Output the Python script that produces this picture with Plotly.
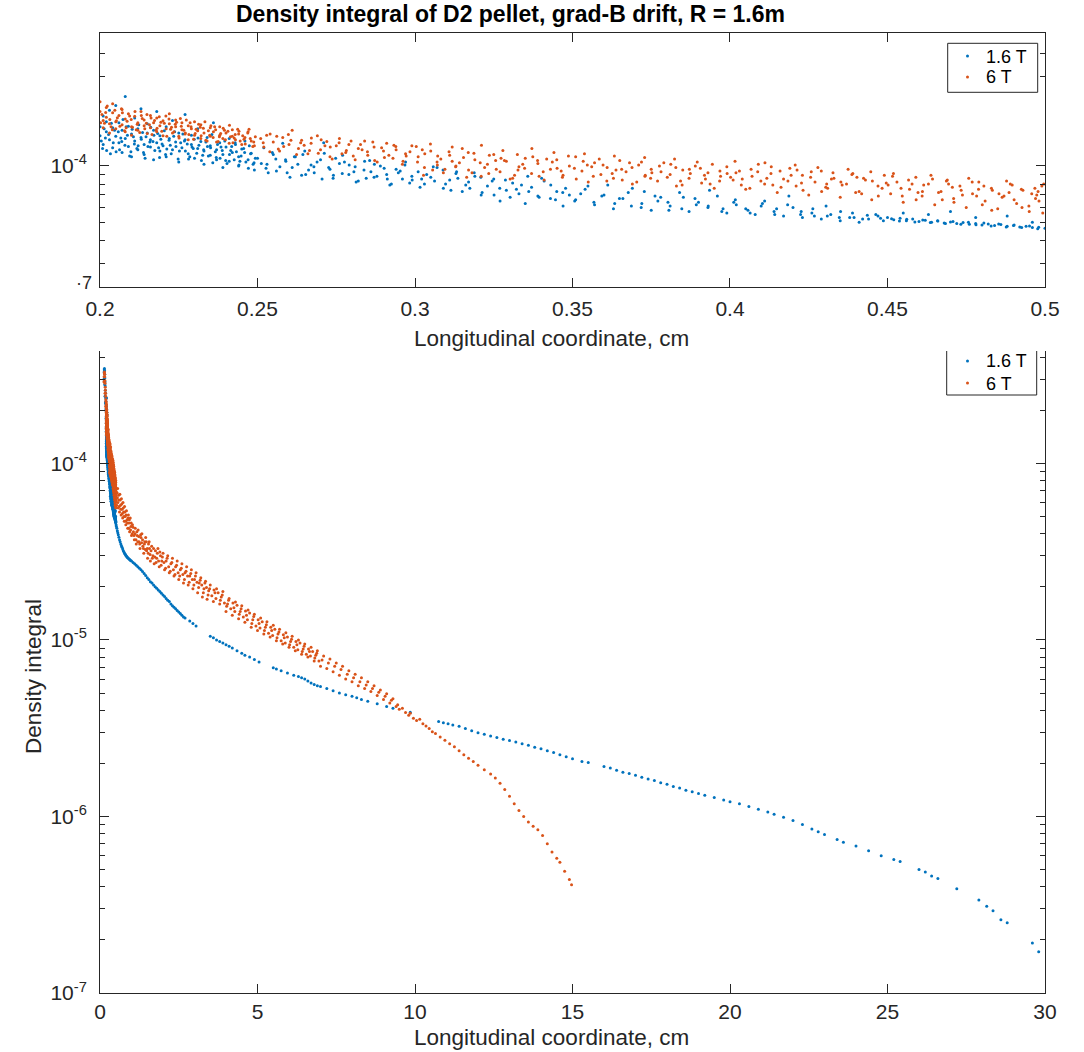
import plotly.graph_objects as go

# ---------------- data ----------------
series_names = ["1.6 T", "6 T"]

# 1.6 T : cloud in the zoomed range 0.2 - 0.5 cm
blue_cloud = [
    (0.200, 1.62e-4), (0.200, 1.45e-4), (0.201, 1.85e-4), (0.201, 1.30e-4), (0.202, 1.52e-4),
    (0.202, 1.72e-4), (0.203, 1.38e-4), (0.203, 1.98e-4), (0.204, 1.25e-4), (0.204, 1.60e-4),
    (0.205, 1.44e-4), (0.205, 2.10e-4), (0.206, 1.33e-4), (0.206, 1.70e-4), (0.207, 1.18e-4),
    (0.207, 1.55e-4), (0.208, 1.40e-4), (0.208, 2.35e-4), (0.209, 1.27e-4), (0.209, 1.63e-4),
    (0.210, 1.48e-4), (0.210, 1.12e-4), (0.211, 1.36e-4), (0.211, 1.80e-4), (0.212, 1.22e-4),
    (0.212, 1.58e-4), (0.213, 1.42e-4), (0.213, 2.02e-4), (0.214, 1.30e-4), (0.214, 1.15e-4),
    (0.215, 1.50e-4), (0.215, 1.68e-4), (0.216, 1.26e-4), (0.216, 1.38e-4), (0.217, 1.08e-4),
    (0.217, 1.55e-4), (0.218, 1.33e-4), (0.218, 1.95e-4), (0.219, 1.20e-4), (0.219, 1.45e-4),
    (0.220, 1.28e-4), (0.221, 1.62e-4), (0.221, 1.12e-4), (0.222, 1.40e-4), (0.223, 1.22e-4),
    (0.223, 1.75e-4), (0.224, 1.34e-4), (0.225, 1.05e-4), (0.225, 1.50e-4), (0.226, 1.25e-4),
    (0.227, 1.38e-4), (0.227, 1.88e-4), (0.228, 1.16e-4), (0.229, 1.30e-4), (0.229, 1.46e-4),
    (0.230, 1.10e-4), (0.231, 1.24e-4), (0.231, 1.58e-4), (0.232, 1.35e-4), (0.233, 1.02e-4),
    (0.233, 1.20e-4), (0.234, 1.42e-4), (0.235, 1.14e-4), (0.235, 1.28e-4), (0.236, 1.70e-4),
    (0.237, 1.08e-4), (0.237, 1.22e-4), (0.238, 1.33e-4), (0.239, 9.8e-5), (0.239, 1.15e-4),
    (0.240, 1.26e-4), (0.241, 1.40e-4), (0.241, 1.06e-4), (0.242, 1.18e-4), (0.243, 1.30e-4),
    (0.244, 1.00e-4), (0.244, 1.12e-4), (0.245, 1.23e-4), (0.246, 1.36e-4), (0.247, 1.08e-4),
    (0.248, 1.17e-4), (0.249, 9.5e-5),
    (0.2004, 1.36e-4), (0.2013, 1.58e-4), (0.2021, 1.21e-4), (0.2027, 1.47e-4), (0.2036, 1.69e-4),
    (0.2042, 1.33e-4), (0.2051, 1.19e-4), (0.2058, 1.52e-4), (0.2066, 1.41e-4), (0.2073, 1.77e-4),
    (0.2079, 1.29e-4), (0.2087, 1.46e-4), (0.2094, 1.13e-4), (0.2102, 1.57e-4), (0.2109, 1.31e-4),
    (0.2117, 1.24e-4), (0.2123, 1.66e-4), (0.2131, 1.39e-4), (0.2138, 1.18e-4), (0.2146, 1.43e-4),
    (0.2152, 1.27e-4), (0.2161, 1.61e-4), (0.2168, 1.35e-4), (0.2174, 1.21e-4), (0.2183, 1.49e-4),
    (0.2189, 1.11e-4), (0.2197, 1.31e-4), (0.2204, 1.54e-4), (0.2212, 1.23e-4), (0.2219, 1.37e-4),
    (0.2226, 1.16e-4), (0.2234, 1.44e-4), (0.2241, 1.27e-4), (0.2248, 1.09e-4), (0.2256, 1.33e-4),
    (0.2263, 1.48e-4), (0.2271, 1.20e-4), (0.2277, 1.31e-4), (0.2285, 1.12e-4), (0.2292, 1.26e-4),
    (0.2299, 1.39e-4), (0.2307, 1.17e-4), (0.2314, 1.29e-4), (0.2322, 1.07e-4), (0.2329, 1.22e-4),
    (0.2336, 1.34e-4), (0.2344, 1.13e-4), (0.2351, 1.25e-4), (0.2358, 1.04e-4), (0.2366, 1.19e-4),
    (0.2373, 1.30e-4), (0.2381, 1.10e-4), (0.2388, 1.21e-4), (0.2396, 1.36e-4), (0.2403, 1.03e-4),
    (0.2411, 1.15e-4), (0.2418, 1.27e-4), (0.2426, 1.08e-4), (0.2433, 1.19e-4), (0.2441, 1.01e-4),
    (0.2448, 1.13e-4), (0.2456, 1.24e-4), (0.2463, 1.05e-4), (0.2471, 9.7e-5), (0.2478, 1.16e-4),
    (0.2486, 1.02e-4), (0.2493, 1.10e-4),
    (0.250, 1.10e-4), (0.252, 1.25e-4), (0.253, 1.02e-4), (0.255, 1.15e-4), (0.256, 9.4e-5),
    (0.258, 1.32e-4), (0.259, 1.06e-4), (0.261, 9.8e-5), (0.262, 1.12e-4), (0.264, 8.9e-5),
    (0.265, 1.20e-4), (0.267, 1.01e-4), (0.268, 9.2e-5), (0.270, 1.08e-4), (0.271, 1.33e-4),
    (0.273, 9.6e-5), (0.274, 8.6e-5), (0.276, 1.03e-4), (0.277, 1.14e-4), (0.279, 9.0e-5),
    (0.281, 9.9e-5), (0.282, 8.3e-5), (0.284, 1.06e-4), (0.286, 9.3e-5), (0.287, 8.7e-5),
    (0.289, 1.00e-4), (0.291, 9.0e-5), (0.292, 7.9e-5), (0.294, 9.6e-5), (0.296, 8.5e-5),
    (0.297, 1.05e-4), (0.299, 8.8e-5),
    (0.2512, 1.03e-4), (0.2534, 9.2e-5), (0.2547, 1.18e-4), (0.2571, 9.9e-5), (0.2589, 1.08e-4),
    (0.2603, 8.7e-5), (0.2628, 1.02e-4), (0.2644, 1.15e-4), (0.2662, 9.5e-5), (0.2689, 1.05e-4),
    (0.2705, 8.5e-5), (0.2726, 9.8e-5), (0.2748, 1.10e-4), (0.2769, 9.1e-5), (0.2791, 1.01e-4),
    (0.2813, 8.2e-5), (0.2838, 9.5e-5), (0.2856, 1.07e-4), (0.2879, 8.8e-5), (0.2902, 9.7e-5),
    (0.2925, 8.0e-5), (0.2947, 9.2e-5), (0.2968, 1.01e-4), (0.2991, 8.4e-5),
    (0.301, 9.3e-5), (0.303, 8.0e-5), (0.305, 8.7e-5), (0.307, 9.8e-5), (0.309, 7.6e-5),
    (0.311, 8.4e-5), (0.313, 9.1e-5), (0.315, 7.3e-5), (0.317, 8.2e-5), (0.319, 8.8e-5),
    (0.321, 7.0e-5), (0.323, 7.8e-5), (0.325, 8.5e-5), (0.327, 6.5e-5), (0.329, 7.4e-5),
    (0.331, 8.1e-5), (0.333, 7.1e-5), (0.335, 6.3e-5), (0.337, 7.7e-5), (0.339, 6.9e-5),
    (0.341, 8.3e-5), (0.343, 6.7e-5), (0.345, 7.3e-5), (0.347, 6.1e-5), (0.349, 7.0e-5),
    (0.3016, 7.7e-5), (0.3037, 9.0e-5), (0.3062, 8.3e-5), (0.3089, 9.5e-5), (0.3114, 7.4e-5),
    (0.3136, 8.6e-5), (0.3161, 7.9e-5), (0.3188, 9.2e-5), (0.3213, 7.2e-5), (0.3245, 8.3e-5),
    (0.3269, 7.6e-5), (0.3302, 6.8e-5), (0.3338, 7.9e-5), (0.3361, 7.3e-5), (0.3402, 8.6e-5),
    (0.3446, 6.6e-5), (0.3478, 7.6e-5),
    (0.351, 6.6e-5), (0.354, 7.5e-5), (0.357, 6.2e-5), (0.360, 7.0e-5), (0.363, 5.9e-5),
    (0.366, 6.7e-5), (0.369, 7.6e-5), (0.372, 6.3e-5), (0.375, 5.8e-5), (0.378, 6.8e-5),
    (0.381, 6.1e-5), (0.384, 7.2e-5), (0.387, 5.7e-5), (0.390, 6.4e-5), (0.393, 6.0e-5),
    (0.396, 6.9e-5), (0.399, 5.6e-5), (0.402, 6.2e-5), (0.405, 5.9e-5), (0.408, 5.5e-5),
    (0.411, 6.5e-5), (0.414, 5.7e-5), (0.417, 5.4e-5), (0.420, 6.0e-5), (0.423, 5.3e-5),
    (0.426, 5.6e-5), (0.429, 5.2e-5), (0.432, 5.5e-5), (0.435, 5.1e-5), (0.438, 5.3e-5),
    (0.441, 5.0e-5), (0.444, 5.2e-5), (0.447, 5.4e-5),
    (0.3526, 7.1e-5), (0.3568, 6.4e-5), (0.3612, 7.9e-5), (0.3649, 6.7e-5), (0.3687, 6.1e-5),
    (0.3728, 7.3e-5), (0.3771, 6.5e-5), (0.3806, 5.8e-5), (0.3852, 6.8e-5), (0.3893, 6.2e-5),
    (0.3935, 7.4e-5), (0.3978, 5.9e-5), (0.4017, 6.6e-5), (0.4064, 5.6e-5), (0.4103, 6.3e-5),
    (0.4148, 5.9e-5), (0.4187, 6.9e-5), (0.4226, 5.7e-5), (0.4268, 5.4e-5), (0.4305, 6.1e-5),
    (0.4347, 5.3e-5), (0.4389, 5.6e-5), (0.4421, 5.2e-5), (0.4463, 5.5e-5), (0.4487, 5.1e-5),
    (0.450, 5.30e-5), (0.452, 5.15e-5), (0.454, 5.25e-5), (0.456, 5.10e-5), (0.458, 5.20e-5),
    (0.460, 5.05e-5), (0.462, 5.12e-5), (0.464, 5.00e-5), (0.466, 5.08e-5), (0.468, 4.95e-5),
    (0.470, 5.02e-5), (0.472, 4.92e-5), (0.474, 4.98e-5), (0.476, 4.88e-5), (0.478, 4.93e-5),
    (0.480, 4.84e-5), (0.482, 4.90e-5), (0.484, 4.80e-5), (0.486, 4.86e-5), (0.488, 4.76e-5),
    (0.490, 4.80e-5), (0.492, 4.72e-5), (0.494, 4.76e-5), (0.496, 4.68e-5), (0.498, 4.70e-5),
    (0.500, 4.64e-5), (0.455, 5.6e-5), (0.463, 5.5e-5), (0.470, 5.7e-5), (0.478, 5.3e-5),
    (0.488, 5.4e-5), (0.496, 5.0e-5),
    (0.4513, 5.22e-5), (0.4538, 5.08e-5), (0.4561, 5.18e-5), (0.4587, 5.02e-5), (0.4612, 5.14e-5),
    (0.4636, 4.98e-5), (0.4659, 5.10e-5), (0.4684, 4.93e-5), (0.4708, 5.05e-5), (0.4733, 4.88e-5),
    (0.4757, 5.00e-5), (0.4781, 4.85e-5), (0.4806, 4.95e-5), (0.4829, 4.78e-5), (0.4853, 4.90e-5),
    (0.4877, 4.72e-5), (0.4902, 4.84e-5), (0.4926, 4.68e-5), (0.4951, 4.78e-5), (0.4977, 4.62e-5),
]
blue_cloud_more = [
    (0.2008, 1.24e-4), (0.2017, 1.41e-4), (0.2033, 1.16e-4), (0.2046, 1.55e-4), (0.2062, 1.22e-4),
    (0.2069, 1.35e-4), (0.2083, 1.62e-4), (0.2098, 1.19e-4), (0.2106, 1.43e-4), (0.2121, 1.28e-4),
    (0.2135, 1.51e-4), (0.2143, 1.10e-4), (0.2158, 1.34e-4), (0.2171, 1.46e-4), (0.2186, 1.25e-4),
    (0.2193, 1.39e-4), (0.2208, 1.15e-4), (0.2223, 1.29e-4), (0.2237, 1.52e-4), (0.2252, 1.20e-4),
    (0.2268, 1.36e-4), (0.2281, 1.09e-4), (0.2296, 1.24e-4), (0.2311, 1.41e-4), (0.2326, 1.14e-4),
    (0.2341, 1.27e-4), (0.2355, 1.47e-4), (0.2369, 1.11e-4), (0.2384, 1.26e-4), (0.2399, 1.07e-4),
    (0.2415, 1.21e-4), (0.2429, 1.33e-4), (0.2444, 1.06e-4), (0.2459, 1.18e-4), (0.2474, 1.28e-4),
    (0.2489, 1.04e-4), (0.2527, 9.7e-5), (0.2558, 1.09e-4), (0.2594, 9.2e-5), (0.2617, 1.12e-4),
    (0.2653, 9.0e-5), (0.2679, 9.9e-5), (0.2712, 1.17e-4), (0.2741, 8.9e-5), (0.2776, 1.05e-4),
    (0.2806, 9.3e-5), (0.2845, 8.6e-5), (0.2871, 1.02e-4), (0.2912, 8.5e-5), (0.2953, 9.4e-5),
    (0.2983, 8.1e-5),
    (0.3021, 8.5e-5), (0.3058, 9.9e-5), (0.3097, 8.0e-5), (0.3132, 9.3e-5), (0.3174, 7.6e-5),
    (0.3209, 8.7e-5), (0.3251, 7.0e-5), (0.3287, 8.4e-5), (0.3322, 7.5e-5), (0.3358, 8.8e-5),
    (0.3394, 6.8e-5), (0.3431, 7.9e-5), (0.3469, 7.2e-5), (0.3507, 6.5e-5), (0.3549, 7.8e-5),
    (0.3593, 6.9e-5), (0.3634, 6.3e-5), (0.3677, 7.2e-5), (0.3718, 6.0e-5), (0.3762, 6.9e-5),
    (0.3803, 6.4e-5), (0.3847, 5.9e-5), (0.3889, 6.7e-5), (0.3931, 6.1e-5), (0.3974, 5.7e-5),
    (0.4012, 6.4e-5), (0.4057, 5.8e-5), (0.4099, 6.1e-5), (0.4142, 5.5e-5), (0.4183, 6.2e-5),
    (0.4224, 5.5e-5), (0.4263, 5.9e-5), (0.4309, 5.4e-5), (0.4351, 5.7e-5), (0.4394, 5.3e-5),
    (0.4436, 5.45e-5), (0.4478, 5.25e-5),
]

# 1.6 T : spike near 0 and the long tail
blue_spike = [
    (0.125, 3.00e-4), (0.13, 3.30e-4), (0.135, 3.40e-4), (0.14, 3.45e-4), (0.145, 3.35e-4),
    (0.15, 3.20e-4), (0.155, 3.05e-4), (0.16, 2.90e-4), (0.165, 2.75e-4), (0.17, 2.60e-4),
    (0.175, 2.50e-4), (0.18, 2.35e-4), (0.185, 2.25e-4), (0.19, 2.15e-4), (0.195, 2.05e-4),
    (0.14, 2.90e-4), (0.15, 2.80e-4), (0.16, 2.40e-4), (0.17, 2.20e-4), (0.18, 2.00e-4),
    (0.19, 1.80e-4),
]
blue_tail = [
    (0.51, 4.50e-5), (0.52, 4.40e-5), (0.535, 4.30e-5), (0.55, 4.15e-5), (0.565, 4.05e-5),
    (0.58, 3.95e-5), (0.60, 3.82e-5), (0.62, 3.70e-5), (0.64, 3.60e-5), (0.66, 3.50e-5),
    (0.68, 3.42e-5), (0.70, 3.35e-5), (0.72, 3.28e-5), (0.74, 3.20e-5), (0.76, 3.15e-5),
    (0.78, 3.10e-5), (0.80, 3.06e-5), (0.82, 3.02e-5), (0.84, 2.98e-5), (0.86, 2.95e-5),
    (0.88, 2.92e-5), (0.90, 2.90e-5), (0.93, 2.87e-5), (0.95, 2.85e-5), (0.97, 2.82e-5),
    (1.00, 2.80e-5), (1.05, 2.75e-5), (1.10, 2.70e-5), (1.15, 2.65e-5), (1.20, 2.60e-5),
    (1.25, 2.55e-5), (1.30, 2.50e-5), (1.35, 2.44e-5), (1.40, 2.38e-5), (1.45, 2.32e-5),
    (1.50, 2.25e-5), (1.55, 2.20e-5), (1.60, 2.14e-5), (1.65, 2.10e-5), (1.70, 2.05e-5),
    (1.75, 2.00e-5), (1.80, 1.96e-5), (1.85, 1.92e-5), (1.90, 1.88e-5), (1.95, 1.84e-5),
    (2.00, 1.80e-5), (2.05, 1.76e-5), (2.10, 1.72e-5), (2.15, 1.68e-5), (2.20, 1.65e-5),
    (2.25, 1.60e-5), (2.30, 1.56e-5), (2.35, 1.53e-5), (2.40, 1.50e-5), (2.45, 1.47e-5),
    (2.50, 1.44e-5), (2.55, 1.41e-5), (2.60, 1.38e-5), (2.65, 1.35e-5), (2.70, 1.33e-5),
    (2.85, 1.28e-5), (2.95, 1.24e-5), (3.05, 1.20e-5),
    (3.50, 1.05e-5), (3.60, 1.03e-5), (3.70, 1.00e-5), (3.80, 9.8e-6), (3.90, 9.6e-6),
    (4.00, 9.4e-6), (4.10, 9.2e-6), (4.20, 9.0e-6), (4.35, 8.7e-6), (4.50, 8.4e-6),
    (4.60, 8.2e-6), (4.75, 8.0e-6), (4.90, 7.75e-6), (5.05, 7.5e-6),
    (5.50, 6.95e-6), (5.60, 6.85e-6), (5.75, 6.7e-6), (5.95, 6.5e-6), (6.15, 6.3e-6),
    (6.30, 6.2e-6), (6.40, 6.1e-6), (6.50, 6.0e-6), (6.60, 5.85e-6), (6.70, 5.7e-6),
    (6.80, 5.6e-6), (6.90, 5.5e-6), (7.00, 5.45e-6), (7.20, 5.3e-6), (7.40, 5.15e-6),
    (7.60, 5.0e-6), (7.80, 4.9e-6), (8.00, 4.8e-6), (8.15, 4.7e-6), (8.30, 4.6e-6),
    (8.50, 4.5e-6), (8.80, 4.35e-6), (9.10, 4.2e-6), (9.30, 4.1e-6), (9.85, 3.9e-6),
    (10.75, 3.45e-6), (10.90, 3.4e-6), (11.05, 3.35e-6), (11.20, 3.3e-6), (11.40, 3.24e-6),
    (11.60, 3.15e-6), (11.80, 3.06e-6), (12.00, 2.98e-6), (12.20, 2.92e-6), (12.40, 2.86e-6),
    (12.60, 2.80e-6), (12.80, 2.74e-6), (13.00, 2.69e-6), (13.20, 2.64e-6), (13.40, 2.58e-6),
    (13.60, 2.53e-6), (13.80, 2.47e-6), (14.00, 2.42e-6), (14.20, 2.36e-6), (14.40, 2.30e-6),
    (14.60, 2.24e-6), (14.80, 2.18e-6), (15.00, 2.12e-6), (15.30, 2.05e-6), (15.50, 2.02e-6),
    (16.00, 1.92e-6), (16.20, 1.88e-6), (16.40, 1.83e-6), (16.60, 1.78e-6), (16.80, 1.75e-6),
    (17.00, 1.71e-6), (17.20, 1.67e-6), (17.40, 1.63e-6), (17.60, 1.60e-6), (17.80, 1.55e-6),
    (18.00, 1.52e-6), (18.20, 1.48e-6), (18.40, 1.45e-6), (18.60, 1.41e-6), (18.80, 1.38e-6),
    (19.00, 1.35e-6), (19.20, 1.32e-6), (19.50, 1.28e-6), (19.80, 1.24e-6), (20.00, 1.21e-6),
    (20.30, 1.18e-6), (20.60, 1.14e-6), (20.90, 1.10e-6), (21.20, 1.06e-6), (21.40, 1.03e-6),
    (21.70, 9.9e-7), (22.00, 9.5e-7), (22.30, 9.0e-7), (22.60, 8.5e-7), (22.80, 8.2e-7),
    (23.00, 7.9e-7), (23.40, 7.4e-7), (23.60, 7.15e-7), (24.00, 6.8e-7), (24.40, 6.4e-7),
    (24.80, 6.0e-7), (25.20, 5.7e-7), (25.40, 5.55e-7), (26.00, 5.0e-7), (26.20, 4.85e-7),
    (26.40, 4.6e-7), (26.60, 4.45e-7), (27.20, 3.9e-7), (27.90, 3.36e-7), (28.15, 3.1e-7),
    (28.35, 2.92e-7), (28.60, 2.6e-7), (28.80, 2.5e-7), (29.60, 1.92e-7), (29.80, 1.71e-7),
]

# 6 T : cloud in the zoomed range 0.2 - 0.5 cm
orange_cloud = [
    (0.200, 2.20e-4), (0.200, 1.95e-4), (0.201, 1.75e-4), (0.201, 1.60e-4), (0.202, 2.05e-4),
    (0.202, 1.82e-4), (0.203, 1.68e-4), (0.203, 1.50e-4), (0.204, 1.92e-4), (0.204, 2.15e-4),
    (0.205, 1.72e-4), (0.205, 1.58e-4), (0.206, 1.86e-4), (0.207, 1.66e-4), (0.207, 2.00e-4),
    (0.208, 1.52e-4), (0.208, 1.78e-4), (0.209, 1.90e-4), (0.210, 1.62e-4), (0.210, 1.46e-4),
    (0.211, 1.84e-4), (0.212, 1.70e-4), (0.212, 1.55e-4), (0.213, 1.95e-4), (0.214, 1.64e-4),
    (0.214, 1.76e-4), (0.215, 1.49e-4), (0.216, 1.86e-4), (0.216, 1.60e-4), (0.217, 1.70e-4),
    (0.218, 1.52e-4), (0.218, 1.80e-4), (0.219, 1.64e-4), (0.220, 1.45e-4), (0.220, 1.74e-4),
    (0.221, 1.58e-4), (0.222, 1.68e-4), (0.222, 1.90e-4), (0.223, 1.50e-4), (0.224, 1.62e-4),
    (0.224, 1.76e-4), (0.225, 1.44e-4), (0.226, 1.56e-4), (0.226, 1.70e-4), (0.227, 1.48e-4),
    (0.228, 1.64e-4), (0.228, 1.38e-4), (0.229, 1.58e-4), (0.230, 1.72e-4), (0.230, 1.46e-4),
    (0.231, 1.54e-4), (0.232, 1.40e-4), (0.232, 1.66e-4), (0.233, 1.50e-4), (0.234, 1.36e-4),
    (0.235, 1.60e-4), (0.235, 1.44e-4), (0.236, 1.52e-4), (0.237, 1.34e-4), (0.238, 1.46e-4),
    (0.238, 1.62e-4), (0.239, 1.40e-4), (0.240, 1.50e-4), (0.241, 1.32e-4), (0.242, 1.44e-4),
    (0.242, 1.56e-4), (0.243, 1.38e-4), (0.244, 1.48e-4), (0.245, 1.30e-4), (0.246, 1.42e-4),
    (0.247, 1.52e-4), (0.248, 1.36e-4), (0.249, 1.28e-4),
    (0.2006, 1.88e-4), (0.2014, 1.69e-4), (0.2023, 2.09e-4), (0.2031, 1.77e-4), (0.2039, 1.56e-4),
    (0.2047, 1.98e-4), (0.2055, 1.81e-4), (0.2063, 1.63e-4), (0.2071, 1.92e-4), (0.2078, 1.54e-4),
    (0.2086, 1.73e-4), (0.2094, 1.85e-4), (0.2103, 1.61e-4), (0.2111, 1.95e-4), (0.2118, 1.67e-4),
    (0.2126, 1.51e-4), (0.2134, 1.79e-4), (0.2142, 1.58e-4), (0.2149, 1.88e-4), (0.2157, 1.66e-4),
    (0.2165, 1.47e-4), (0.2173, 1.75e-4), (0.2181, 1.59e-4), (0.2188, 1.83e-4), (0.2196, 1.53e-4),
    (0.2204, 1.69e-4), (0.2212, 1.44e-4), (0.2219, 1.78e-4), (0.2227, 1.61e-4), (0.2235, 1.52e-4),
    (0.2243, 1.71e-4), (0.2251, 1.41e-4), (0.2258, 1.63e-4), (0.2266, 1.55e-4), (0.2274, 1.76e-4),
    (0.2282, 1.47e-4), (0.2289, 1.62e-4), (0.2297, 1.39e-4), (0.2305, 1.57e-4), (0.2313, 1.67e-4),
    (0.2321, 1.45e-4), (0.2328, 1.59e-4), (0.2336, 1.37e-4), (0.2344, 1.54e-4), (0.2352, 1.64e-4),
    (0.2359, 1.42e-4), (0.2367, 1.56e-4), (0.2375, 1.35e-4), (0.2383, 1.49e-4), (0.2391, 1.59e-4),
    (0.2398, 1.38e-4), (0.2406, 1.53e-4), (0.2414, 1.43e-4), (0.2422, 1.33e-4), (0.2429, 1.47e-4),
    (0.2437, 1.57e-4), (0.2445, 1.36e-4), (0.2453, 1.45e-4), (0.2461, 1.31e-4), (0.2469, 1.50e-4),
    (0.2477, 1.40e-4), (0.2485, 1.27e-4), (0.2493, 1.43e-4),
    (0.251, 1.40e-4), (0.252, 1.26e-4), (0.254, 1.48e-4), (0.255, 1.34e-4), (0.257, 1.20e-4),
    (0.258, 1.42e-4), (0.260, 1.30e-4), (0.261, 1.55e-4), (0.263, 1.24e-4), (0.264, 1.37e-4),
    (0.266, 1.16e-4), (0.267, 1.32e-4), (0.269, 1.45e-4), (0.270, 1.22e-4), (0.272, 1.35e-4),
    (0.273, 1.12e-4), (0.275, 1.28e-4), (0.276, 1.40e-4), (0.278, 1.18e-4), (0.279, 1.30e-4),
    (0.281, 1.08e-4), (0.282, 1.24e-4), (0.284, 1.36e-4), (0.285, 1.14e-4), (0.287, 1.26e-4),
    (0.288, 1.05e-4), (0.290, 1.20e-4), (0.291, 1.32e-4), (0.293, 1.10e-4), (0.294, 1.22e-4),
    (0.296, 1.02e-4), (0.297, 1.16e-4), (0.299, 1.28e-4),
    (0.2518, 1.33e-4), (0.2539, 1.19e-4), (0.2561, 1.44e-4), (0.2583, 1.27e-4), (0.2606, 1.37e-4),
    (0.2624, 1.15e-4), (0.2648, 1.29e-4), (0.2671, 1.41e-4), (0.2693, 1.17e-4), (0.2714, 1.28e-4),
    (0.2737, 1.09e-4), (0.2759, 1.33e-4), (0.2782, 1.21e-4), (0.2804, 1.13e-4), (0.2827, 1.30e-4),
    (0.2849, 1.19e-4), (0.2872, 1.07e-4), (0.2894, 1.25e-4), (0.2917, 1.14e-4), (0.2939, 1.27e-4),
    (0.2962, 1.06e-4), (0.2984, 1.19e-4),
    (0.301, 1.12e-4), (0.303, 9.8e-5), (0.305, 1.20e-4), (0.307, 1.05e-4), (0.309, 9.2e-5),
    (0.311, 1.14e-4), (0.313, 1.00e-4), (0.315, 1.24e-4), (0.317, 9.5e-5), (0.319, 1.08e-4),
    (0.321, 8.8e-5), (0.323, 1.02e-4), (0.325, 1.15e-4), (0.327, 9.3e-5), (0.329, 1.06e-4),
    (0.331, 8.6e-5), (0.333, 9.9e-5), (0.335, 1.10e-4), (0.337, 9.1e-5), (0.339, 1.03e-4),
    (0.341, 8.4e-5), (0.343, 9.6e-5), (0.345, 1.08e-4), (0.347, 8.9e-5), (0.349, 1.00e-4),
    (0.3008, 1.05e-4), (0.3031, 1.16e-4), (0.3056, 9.5e-5), (0.3082, 1.09e-4), (0.3108, 1.19e-4),
    (0.3129, 9.9e-5), (0.3154, 1.11e-4), (0.3181, 9.2e-5), (0.3207, 1.04e-4), (0.3236, 1.14e-4),
    (0.3258, 9.6e-5), (0.3284, 1.07e-4), (0.3316, 8.9e-5), (0.3342, 1.02e-4), (0.3374, 1.12e-4),
    (0.3407, 9.3e-5), (0.3436, 1.05e-4), (0.3468, 8.7e-5),
    (0.351, 1.12e-4), (0.353, 9.4e-5), (0.355, 8.2e-5), (0.357, 1.04e-4), (0.359, 9.0e-5),
    (0.361, 9.8e-5), (0.363, 8.6e-5), (0.365, 1.07e-4), (0.367, 9.3e-5), (0.369, 8.0e-5),
    (0.371, 1.01e-4), (0.373, 8.8e-5), (0.375, 9.6e-5), (0.377, 8.3e-5), (0.379, 1.04e-4),
    (0.381, 9.0e-5), (0.383, 7.8e-5), (0.385, 9.5e-5), (0.387, 8.6e-5), (0.389, 1.00e-4),
    (0.391, 8.1e-5), (0.393, 9.2e-5), (0.395, 7.6e-5), (0.397, 8.8e-5), (0.399, 9.9e-5),
    (0.3506, 9.7e-5), (0.3534, 1.06e-4), (0.3566, 8.8e-5), (0.3597, 1.01e-4), (0.3626, 9.1e-5),
    (0.3658, 8.4e-5), (0.3689, 9.8e-5), (0.3719, 1.05e-4), (0.3748, 8.6e-5), (0.3781, 9.3e-5),
    (0.3812, 1.02e-4), (0.3843, 8.3e-5), (0.3874, 9.1e-5), (0.3906, 9.7e-5), (0.3937, 8.0e-5),
    (0.3968, 9.4e-5),
    (0.401, 8.4e-5), (0.403, 9.4e-5), (0.405, 7.5e-5), (0.407, 8.8e-5), (0.409, 1.02e-4),
    (0.411, 8.0e-5), (0.413, 9.1e-5), (0.415, 7.2e-5), (0.417, 8.5e-5), (0.419, 9.7e-5),
    (0.421, 7.8e-5), (0.423, 8.9e-5), (0.425, 7.0e-5), (0.427, 8.2e-5), (0.429, 9.4e-5),
    (0.431, 7.6e-5), (0.433, 8.6e-5), (0.435, 6.8e-5), (0.437, 8.0e-5), (0.439, 9.1e-5),
    (0.441, 7.3e-5), (0.443, 8.4e-5), (0.445, 6.6e-5), (0.447, 7.8e-5), (0.449, 8.9e-5),
    (0.4002, 8.7e-5), (0.4036, 7.9e-5), (0.4067, 9.6e-5), (0.4098, 8.3e-5), (0.4131, 9.9e-5),
    (0.4162, 7.7e-5), (0.4194, 8.9e-5), (0.4227, 8.1e-5), (0.4258, 9.3e-5), (0.4291, 7.3e-5),
    (0.4322, 8.5e-5), (0.4356, 7.9e-5), (0.4387, 9.0e-5), (0.4418, 7.1e-5), (0.4452, 8.3e-5),
    (0.4483, 7.6e-5),
    (0.451, 7.1e-5), (0.453, 8.2e-5), (0.455, 6.4e-5), (0.457, 7.5e-5), (0.459, 8.7e-5),
    (0.461, 6.9e-5), (0.463, 8.0e-5), (0.465, 6.2e-5), (0.467, 7.3e-5), (0.469, 8.4e-5),
    (0.471, 6.7e-5), (0.473, 7.8e-5), (0.475, 6.0e-5), (0.477, 7.1e-5), (0.479, 8.2e-5),
    (0.481, 6.5e-5), (0.483, 7.6e-5), (0.485, 5.9e-5), (0.487, 6.9e-5), (0.489, 8.0e-5),
    (0.491, 6.3e-5), (0.493, 7.4e-5), (0.495, 5.7e-5), (0.497, 6.7e-5), (0.499, 7.8e-5),
    (0.4516, 8.8e-5), (0.4547, 6.9e-5), (0.4578, 8.0e-5), (0.4611, 7.3e-5), (0.4643, 8.5e-5),
    (0.4674, 6.6e-5), (0.4706, 7.7e-5), (0.4738, 7.0e-5), (0.4769, 8.2e-5), (0.4801, 6.2e-5),
    (0.4833, 7.4e-5), (0.4864, 6.8e-5), (0.4896, 7.9e-5), (0.4927, 6.0e-5), (0.4958, 7.1e-5),
    (0.4981, 6.5e-5), (0.4993, 5.6e-5), (0.4968, 7.6e-5),
]
orange_cloud_more = [
    (0.2002, 1.70e-4), (0.2018, 1.93e-4), (0.2035, 1.62e-4), (0.2052, 1.74e-4), (0.2068, 2.02e-4),
    (0.2083, 1.60e-4), (0.2099, 1.77e-4), (0.2115, 1.56e-4), (0.2131, 1.86e-4), (0.2147, 1.69e-4),
    (0.2162, 1.80e-4), (0.2178, 1.55e-4), (0.2193, 1.71e-4), (0.2209, 1.85e-4), (0.2224, 1.57e-4),
    (0.2239, 1.67e-4), (0.2255, 1.79e-4), (0.2271, 1.50e-4), (0.2286, 1.70e-4), (0.2302, 1.49e-4),
    (0.2318, 1.61e-4), (0.2333, 1.72e-4), (0.2348, 1.46e-4), (0.2364, 1.62e-4), (0.2379, 1.43e-4),
    (0.2395, 1.55e-4), (0.2411, 1.65e-4), (0.2426, 1.41e-4), (0.2441, 1.53e-4), (0.2457, 1.39e-4),
    (0.2473, 1.57e-4), (0.2488, 1.34e-4), (0.2529, 1.46e-4), (0.2566, 1.23e-4), (0.2598, 1.47e-4),
    (0.2637, 1.33e-4), (0.2665, 1.21e-4), (0.2702, 1.38e-4), (0.2731, 1.26e-4), (0.2768, 1.16e-4),
    (0.2797, 1.36e-4), (0.2832, 1.22e-4), (0.2866, 1.34e-4), (0.2903, 1.11e-4), (0.2933, 1.29e-4),
    (0.2972, 1.13e-4), (0.3023, 1.22e-4), (0.3071, 1.01e-4), (0.3118, 1.06e-4), (0.3169, 1.18e-4),
    (0.3221, 9.8e-5), (0.3273, 1.10e-4), (0.3327, 9.5e-5), (0.3389, 1.07e-4), (0.3451, 9.7e-5),
    (0.3547, 1.01e-4), (0.3638, 9.5e-5), (0.3731, 8.9e-5), (0.3828, 9.8e-5), (0.3922, 8.5e-5),
    (0.4019, 9.2e-5), (0.4117, 8.6e-5), (0.4213, 9.5e-5), (0.4307, 8.0e-5), (0.4403, 8.7e-5),
    (0.4502, 7.9e-5), (0.4597, 7.2e-5), (0.4694, 8.0e-5), (0.4789, 7.5e-5), (0.4886, 7.2e-5),
    (0.4978, 7.3e-5),
    (0.3004, 1.27e-4), (0.3027, 8.9e-5), (0.3049, 1.31e-4), (0.3072, 1.13e-4), (0.3095, 9.6e-5),
    (0.3118, 1.26e-4), (0.3141, 1.04e-4), (0.3164, 8.7e-5), (0.3187, 1.17e-4), (0.3211, 1.29e-4),
    (0.3234, 9.1e-5), (0.3256, 1.07e-4), (0.3279, 1.21e-4), (0.3302, 8.5e-5), (0.3325, 1.15e-4),
    (0.3348, 9.7e-5), (0.3371, 1.24e-4), (0.3394, 8.8e-5), (0.3418, 1.09e-4), (0.3441, 1.18e-4),
    (0.3464, 9.4e-5), (0.3487, 1.13e-4), (0.3512, 8.5e-5), (0.3538, 1.16e-4), (0.3561, 9.9e-5),
    (0.3585, 1.09e-4), (0.3609, 8.3e-5), (0.3633, 1.13e-4), (0.3656, 9.6e-5), (0.3681, 1.04e-4),
    (0.3704, 8.2e-5), (0.3729, 1.11e-4), (0.3752, 9.2e-5), (0.3776, 1.00e-4), (0.3801, 8.7e-5),
    (0.3824, 1.09e-4), (0.3848, 7.9e-5), (0.3871, 9.6e-5), (0.3896, 1.05e-4), (0.3919, 8.9e-5),
    (0.3944, 1.02e-4), (0.3967, 8.3e-5), (0.3991, 9.1e-5), (0.4016, 1.06e-4), (0.4039, 8.5e-5),
    (0.4063, 7.6e-5), (0.4088, 9.3e-5), (0.4111, 1.04e-4), (0.4136, 7.9e-5), (0.4159, 9.4e-5),
    (0.4184, 8.3e-5), (0.4207, 1.01e-4), (0.4232, 7.4e-5), (0.4256, 8.7e-5), (0.4279, 9.8e-5),
    (0.4304, 7.7e-5), (0.4327, 9.2e-5), (0.4352, 8.2e-5), (0.4375, 9.6e-5), (0.4399, 7.2e-5),
    (0.4424, 8.6e-5), (0.4447, 9.3e-5), (0.4471, 6.9e-5), (0.4496, 8.1e-5), (0.4519, 9.1e-5),
    (0.4543, 7.6e-5), (0.4567, 8.4e-5), (0.4591, 6.6e-5), (0.4615, 7.9e-5), (0.4638, 8.9e-5),
    (0.4662, 7.2e-5), (0.4687, 8.3e-5), (0.4711, 6.4e-5), (0.4734, 7.4e-5), (0.4758, 8.6e-5),
    (0.4783, 6.9e-5), (0.4806, 7.8e-5), (0.4831, 5.8e-5), (0.4854, 7.1e-5), (0.4878, 8.3e-5),
    (0.4902, 6.6e-5), (0.4925, 7.5e-5), (0.4949, 6.1e-5), (0.4974, 7.0e-5), (0.4996, 8.0e-5),
]

# 6 T : spike near 0 and the band out to 15 cm
orange_spike = [
    (0.125, 2.90e-4), (0.13, 3.10e-4), (0.135, 3.25e-4), (0.14, 3.30e-4), (0.145, 3.20e-4),
    (0.15, 3.10e-4), (0.155, 2.95e-4), (0.16, 2.85e-4), (0.165, 2.70e-4), (0.17, 2.60e-4),
    (0.175, 2.50e-4), (0.18, 2.40e-4), (0.185, 2.30e-4), (0.19, 2.25e-4), (0.195, 2.15e-4),
    (0.16, 2.50e-4), (0.18, 2.10e-4),
]
orange_tail = [
    (0.505, 7.1e-5), (0.515, 6.2e-5), (0.52, 6.9e-5), (0.53, 5.8e-5), (0.545, 6.8e-5),
    (0.55, 6.4e-5), (0.56, 7.2e-5), (0.57, 6.0e-5), (0.58, 5.6e-5), (0.59, 6.6e-5),
    (0.60, 6.2e-5), (0.61, 5.7e-5), (0.62, 5.3e-5), (0.63, 6.7e-5), (0.64, 6.2e-5),
    (0.65, 5.8e-5), (0.66, 5.5e-5), (0.67, 5.1e-5), (0.68, 6.3e-5), (0.69, 5.9e-5),
    (0.70, 5.5e-5), (0.71, 5.2e-5), (0.72, 4.9e-5), (0.73, 6.0e-5), (0.74, 5.6e-5),
    (0.75, 5.3e-5), (0.76, 5.0e-5), (0.77, 4.7e-5), (0.78, 5.7e-5), (0.79, 5.3e-5),
    (0.80, 5.0e-5), (0.81, 4.7e-5), (0.82, 4.5e-5), (0.83, 5.1e-5), (0.84, 5.4e-5),
    (0.86, 4.8e-5), (0.87, 4.6e-5), (0.88, 4.3e-5), (0.89, 4.9e-5), (0.90, 5.1e-5),
    (0.91, 4.3e-5), (0.92, 4.6e-5), (0.93, 4.8e-5), (0.94, 4.1e-5), (0.96, 4.9e-5),
    (0.97, 4.2e-5), (0.98, 4.4e-5), (0.99, 4.6e-5), (1.00, 3.9e-5),
    (1.02, 4.0e-5), (1.03, 4.5e-5), (1.05, 4.35e-5), (1.06, 4.1e-5), (1.08, 3.9e-5),
    (1.09, 3.7e-5), (1.11, 4.0e-5), (1.12, 4.3e-5), (1.14, 3.7e-5), (1.15, 3.5e-5),
    (1.17, 4.1e-5), (1.18, 3.9e-5), (1.20, 3.6e-5), (1.21, 4.2e-5), (1.23, 3.85e-5),
    (1.24, 3.6e-5), (1.26, 3.5e-5), (1.27, 3.3e-5), (1.29, 3.95e-5), (1.30, 3.8e-5),
    (1.32, 3.55e-5), (1.33, 4.0e-5), (1.35, 3.7e-5), (1.36, 3.4e-5), (1.38, 3.3e-5),
    (1.39, 3.1e-5), (1.41, 3.5e-5), (1.42, 3.6e-5), (1.44, 3.25e-5), (1.45, 3.8e-5),
    (1.47, 3.6e-5), (1.48, 3.2e-5), (1.50, 3.3e-5), (1.51, 2.9e-5), (1.53, 3.1e-5),
    (1.54, 3.5e-5), (1.56, 3.6e-5), (1.57, 3.3e-5), (1.59, 3.05e-5), (1.60, 2.8e-5),
    (1.62, 3.2e-5), (1.64, 3.4e-5), (1.66, 2.9e-5), (1.68, 3.0e-5), (1.70, 3.3e-5),
    (1.72, 2.7e-5), (1.74, 2.95e-5), (1.76, 3.2e-5), (1.78, 2.75e-5), (1.80, 2.9e-5),
    (1.82, 3.1e-5), (1.84, 3.3e-5), (1.86, 2.8e-5), (1.88, 2.6e-5), (1.90, 3.15e-5),
    (1.92, 3.0e-5), (1.94, 2.65e-5), (1.96, 2.8e-5), (1.98, 2.95e-5), (2.00, 3.1e-5),
    (2.03, 2.75e-5), (2.05, 2.5e-5), (2.08, 2.55e-5), (2.10, 2.8e-5), (2.13, 2.9e-5),
    (2.15, 3.0e-5), (2.18, 2.6e-5), (2.20, 2.4e-5), (2.23, 2.45e-5), (2.25, 2.7e-5),
    (2.28, 2.75e-5), (2.30, 2.9e-5), (2.33, 2.5e-5), (2.35, 2.3e-5), (2.38, 2.35e-5),
    (2.40, 2.6e-5), (2.43, 2.65e-5), (2.45, 2.8e-5), (2.48, 2.4e-5), (2.50, 2.2e-5),
    (2.53, 2.3e-5), (2.55, 2.5e-5), (2.58, 2.55e-5), (2.60, 2.7e-5), (2.63, 2.35e-5),
    (2.65, 2.1e-5), (2.68, 2.2e-5), (2.70, 2.4e-5), (2.73, 2.45e-5), (2.75, 2.6e-5),
    (2.78, 2.3e-5), (2.80, 2.05e-5), (2.83, 2.12e-5), (2.85, 2.3e-5), (2.88, 2.38e-5),
    (2.90, 2.5e-5), (2.93, 2.2e-5), (2.95, 1.95e-5), (2.98, 2.05e-5), (3.00, 2.2e-5),
    (3.03, 2.3e-5), (3.05, 2.4e-5), (3.08, 2.12e-5), (3.10, 1.85e-5), (3.13, 1.98e-5),
    (3.15, 2.1e-5), (3.18, 2.18e-5), (3.20, 2.25e-5), (3.23, 2.05e-5), (3.25, 1.75e-5),
    (3.28, 1.85e-5), (3.30, 1.95e-5), (3.33, 2.1e-5), (3.35, 2.15e-5), (3.38, 1.98e-5),
    (3.40, 1.7e-5), (3.43, 1.8e-5), (3.45, 1.9e-5), (3.48, 1.95e-5), (3.50, 2.05e-5),
    (3.55, 1.78e-5), (3.60, 1.65e-5), (3.62, 1.92e-5), (3.65, 1.85e-5), (3.68, 1.72e-5),
    (3.70, 1.95e-5), (3.75, 1.85e-5), (3.80, 1.6e-5), (3.82, 1.68e-5), (3.85, 1.75e-5),
    (3.88, 1.8e-5), (3.90, 1.88e-5), (3.95, 1.62e-5),
    (4.00, 1.45e-5), (4.02, 1.55e-5), (4.05, 1.6e-5), (4.08, 1.68e-5), (4.10, 1.72e-5),
    (4.15, 1.5e-5), (4.20, 1.38e-5), (4.22, 1.62e-5), (4.25, 1.52e-5), (4.28, 1.45e-5),
    (4.30, 1.64e-5), (4.35, 1.57e-5), (4.40, 1.32e-5), (4.42, 1.4e-5), (4.45, 1.45e-5),
    (4.48, 1.5e-5), (4.50, 1.56e-5), (4.55, 1.35e-5), (4.60, 1.26e-5), (4.62, 1.46e-5),
    (4.65, 1.38e-5), (4.68, 1.3e-5), (4.70, 1.48e-5), (4.75, 1.42e-5), (4.80, 1.18e-5),
    (4.82, 1.24e-5), (4.85, 1.3e-5), (4.88, 1.36e-5), (4.90, 1.4e-5), (4.95, 1.2e-5),
    (5.00, 1.13e-5), (5.02, 1.3e-5), (5.05, 1.24e-5), (5.08, 1.17e-5), (5.10, 1.33e-5),
    (5.15, 1.27e-5), (5.20, 1.08e-5), (5.22, 1.13e-5), (5.25, 1.18e-5), (5.28, 1.22e-5),
    (5.30, 1.27e-5), (5.35, 1.09e-5), (5.40, 1.04e-5), (5.42, 1.18e-5), (5.45, 1.13e-5),
    (5.48, 1.06e-5), (5.50, 1.21e-5), (5.55, 1.15e-5), (5.60, 9.9e-6), (5.62, 1.03e-5),
    (5.65, 1.08e-5), (5.68, 1.11e-5), (5.70, 1.15e-5), (5.75, 9.9e-6), (5.80, 9.5e-6),
    (5.82, 1.07e-5), (5.85, 1.03e-5), (5.88, 9.6e-6), (5.90, 1.1e-5), (5.95, 1.04e-5),
    (6.00, 9.1e-6), (6.02, 9.4e-6), (6.05, 9.8e-6), (6.08, 1.01e-5), (6.10, 1.05e-5),
    (6.15, 9.1e-6), (6.20, 8.7e-6), (6.22, 9.8e-6), (6.25, 9.4e-6), (6.28, 8.8e-6),
    (6.30, 1.0e-5), (6.35, 9.6e-6), (6.40, 8.3e-6), (6.42, 8.6e-6), (6.45, 8.9e-6),
    (6.48, 9.2e-6), (6.50, 9.5e-6), (6.55, 8.3e-6), (6.60, 8.0e-6), (6.62, 8.9e-6),
    (6.65, 8.6e-6), (6.68, 8.1e-6), (6.70, 9.1e-6), (6.75, 8.6e-6), (6.80, 7.6e-6),
    (6.82, 7.9e-6), (6.85, 8.2e-6), (6.88, 8.4e-6), (6.90, 8.7e-6), (6.95, 7.6e-6),
    (7.00, 7.1e-6), (7.05, 7.7e-6), (7.10, 8.1e-6), (7.20, 6.9e-6), (7.25, 7.4e-6),
    (7.30, 7.8e-6), (7.40, 6.6e-6), (7.45, 7.1e-6), (7.50, 7.4e-6), (7.60, 6.3e-6),
    (7.65, 6.8e-6), (7.70, 7.1e-6), (7.80, 6.0e-6), (7.85, 6.4e-6), (7.90, 6.7e-6),
    (8.00, 5.8e-6), (8.05, 6.1e-6), (8.10, 6.4e-6), (8.20, 5.5e-6), (8.25, 5.8e-6),
    (8.30, 6.1e-6), (8.40, 5.3e-6), (8.45, 5.55e-6), (8.50, 5.8e-6), (8.60, 5.1e-6),
    (8.65, 5.3e-6), (8.70, 5.5e-6), (8.80, 4.85e-6), (8.85, 5.05e-6), (8.90, 5.2e-6),
    (9.00, 4.6e-6), (9.05, 4.8e-6), (9.10, 4.95e-6), (9.20, 4.4e-6), (9.25, 4.55e-6),
    (9.30, 4.65e-6), (9.40, 4.2e-6), (9.45, 4.3e-6), (9.50, 4.05e-6), (9.60, 4.1e-6),
    (9.70, 3.88e-6), (9.80, 3.75e-6), (9.85, 3.85e-6), (9.95, 3.6e-6), (10.05, 3.5e-6),
    (10.15, 3.55e-6), (10.25, 3.35e-6), (10.35, 3.25e-6), (10.45, 3.15e-6), (10.55, 3.02e-6),
    (10.65, 2.95e-6), (10.80, 2.82e-6), (10.95, 2.7e-6), (11.10, 2.58e-6), (11.25, 2.48e-6),
    (11.40, 2.36e-6), (11.55, 2.24e-6), (11.70, 2.14e-6), (11.85, 2.05e-6), (12.00, 1.95e-6),
    (12.20, 1.84e-6), (12.40, 1.74e-6), (12.55, 1.65e-6), (12.70, 1.54e-6), (12.85, 1.42e-6),
    (13.00, 1.3e-6), (13.15, 1.18e-6), (13.30, 1.08e-6), (13.45, 1.0e-6), (13.60, 9.3e-7),
    (13.75, 8.8e-7), (13.90, 8.4e-7), (14.05, 7.8e-7), (14.20, 7.0e-7), (14.35, 6.3e-7),
    (14.50, 5.8e-7), (14.60, 5.5e-7), (14.75, 4.9e-7), (14.90, 4.4e-7), (14.97, 4.1e-7),
]

top_x_ticks = [0.2, 0.25, 0.3, 0.35, 0.4, 0.45, 0.5]
top_x_labels = ["0.2", "0.25", "0.3", "0.35", "0.4", "0.45", "0.5"]
bottom_x_ticks = [0, 5, 10, 15, 20, 25, 30]
bottom_x_labels = ["0", "5", "10", "15", "20", "25", "30"]
top_y_ticks = [1e-4]
top_y_labels = ["10<sup>-4</sup>"]
top_y_minor = [3e-5, 4e-5, 5e-5, 6e-5, 7e-5, 8e-5, 9e-5, 3e-4, 4e-4]
bottom_y_ticks = [1e-7, 1e-6, 1e-5, 1e-4]
bottom_y_labels = ["10<sup>-7</sup>", "10<sup>-6</sup>", "10<sup>-5</sup>", "10<sup>-4</sup>"]
bottom_y_minor = [k * 10.0 ** d for d in (-7, -6, -5, -4) for k in range(2, 10) if k * 10.0 ** d < 4.4e-4]

title_text = "Density integral of D2 pellet, grad-B drift, R = 1.6m"
x_title = "Longitudinal coordinate, cm"
y_title = "Density integral"

# ---------------- figure ----------------
W, H = 1084, 1052
def px(x):
    return x / W
def py(y):
    return 1 - y / H

BLUE = "#0072BD"
ORANGE = "#D95319"
AXC = "#262626"
FONT = "Liberation Sans, Arial, sans-serif"

blue_pts = blue_spike + blue_cloud + blue_cloud_more + blue_tail
orange_pts = orange_spike + orange_cloud + orange_cloud_more + orange_tail
bx = [p[0] for p in blue_pts]
by = [p[1] for p in blue_pts]
ox = [p[0] for p in orange_pts]
oy = [p[1] for p in orange_pts]

fig = go.Figure()
for xa, ya in (("x", "y"), ("x2", "y2")):
    fig.add_trace(go.Scatter(x=bx, y=by, mode="markers", name=series_names[0], showlegend=False,
                             marker=dict(color=BLUE, size=3, line=dict(width=0)),
                             xaxis=xa, yaxis=ya))
    fig.add_trace(go.Scatter(x=ox, y=oy, mode="markers", name=series_names[1], showlegend=False,
                             marker=dict(color=ORANGE, size=3, line=dict(width=0)),
                             xaxis=xa, yaxis=ya))

axis_common = dict(showline=True, linecolor=AXC, linewidth=1, ticks="inside", automargin=False,
                   tickcolor=AXC, tickwidth=1, showgrid=False, zeroline=False,
                   tickfont=dict(family=FONT, size=21, color=AXC))

fig.update_layout(
    width=W, height=H, margin=dict(l=0, r=0, t=0, b=0),
    paper_bgcolor="white", plot_bgcolor="white", showlegend=False,
    xaxis=dict(domain=[px(100), px(1045)], range=[0.19999, 0.50001], anchor="y",
               tickmode="array", tickvals=top_x_ticks, ticktext=top_x_labels,
               ticklen=9, mirror="ticks", ticklabelstandoff=3, **axis_common),
    yaxis=dict(domain=[py(287), py(33)], type="log", range=[-4.647, -3.290], anchor="x",
               tickmode="array", tickvals=top_y_ticks, ticktext=top_y_labels,
               ticklen=9, mirror="ticks", ticklabelstandoff=8,
               minor=dict(tickvals=top_y_minor, ticks="inside", ticklen=5,
                          tickcolor=AXC, tickwidth=1, showgrid=False),
               **axis_common),
    xaxis2=dict(domain=[px(100), px(1045)], range=[-0.0001, 30.0001], anchor="y2",
                tickmode="array", tickvals=bottom_x_ticks, ticktext=bottom_x_labels,
                ticklen=9, mirror=False, ticklabelstandoff=0, **axis_common),
    yaxis2=dict(domain=[py(993), py(351)], type="log", range=[-7.0001, -3.363], anchor="x2",
                tickmode="array", tickvals=bottom_y_ticks, ticktext=bottom_y_labels,
                ticklen=9, mirror="ticks", ticklabelstandoff=8,
                minor=dict(tickvals=bottom_y_minor, ticks="inside", ticklen=5,
                           tickcolor=AXC, tickwidth=1, showgrid=False),
                **axis_common),
)

# ---- legends (boxes, markers, labels) ----
LEG_FONT = dict(family=FONT, size=18, color="black")
fig.add_shape(type="rect", xref="paper", yref="paper", x0=px(947.7), x1=px(1037.7), y0=py(92.3), y1=py(43.3),
              line=dict(color=AXC, width=1), fillcolor="white", layer="above")
fig.add_shape(type="rect", xref="paper", yref="paper", x0=px(946.7), x1=px(1036.7), y0=py(395), y1=py(351.5),
              line=dict(width=0), fillcolor="white", layer="above")
for x0, y0, x1, y1 in ((946.7, 351, 946.7, 395), (946.7, 395, 1036.7, 395), (1036.7, 351, 1036.7, 395)):
    fig.add_shape(type="line", xref="paper", yref="paper", x0=px(x0), y0=py(y0), x1=px(x1), y1=py(y1),
                  line=dict(color=AXC, width=1), layer="above")

legend_rows = [(56, 77), (361, 383)]
for rows in legend_rows:
    for (yy, col, name) in zip(rows, (BLUE, ORANGE), series_names):
        fig.add_shape(type="circle", xref="paper", yref="paper", x0=px(966), x1=px(969),
                      y0=py(yy + 1.5), y1=py(yy - 1.5), fillcolor=col, line=dict(width=0), layer="above")
        fig.add_annotation(x=px(985), y=py(yy), xref="paper", yref="paper", text=name, height=17,
                           borderpad=0, xanchor="left", yanchor="middle", showarrow=False, font=LEG_FONT)

def label(x, y, text, size, color=AXC, angle=0):
    fig.add_annotation(x=px(x), y=py(y), xref="paper", yref="paper", text=text, textangle=angle,
                       xanchor="center", yanchor="middle", showarrow=False,
                       font=dict(family=FONT, size=size, color=color))

label(510, 14, "<b>" + title_text + "</b>", 23, color="black")
label(551.5, 338, x_title, 22.5)
label(551.5, 1037, x_title, 22.5)
label(33, 677, y_title, 22.5, angle=-90)
label(84, 283, "·7", 18)

fig.write_html("out.html")
